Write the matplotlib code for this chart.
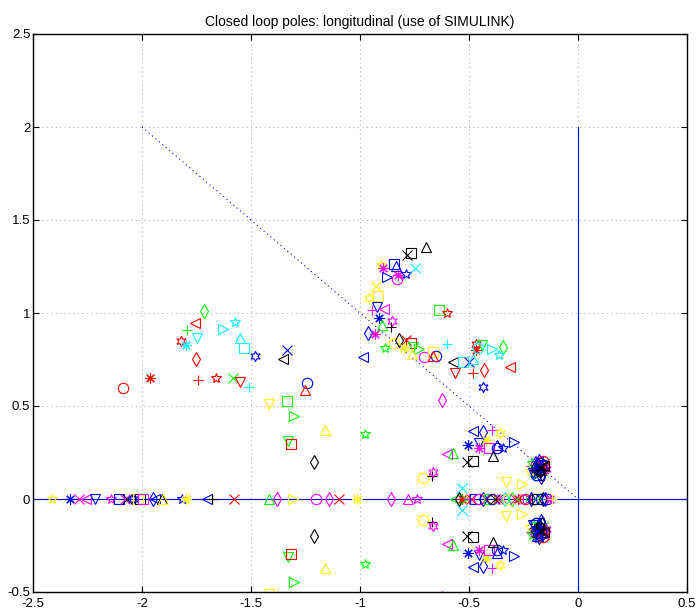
import matplotlib
matplotlib.use("Agg")
import matplotlib.pyplot as plt
from matplotlib import font_manager

# --- closed-loop complex poles (upper half-plane; conjugates drawn too) ---
cplx_re = [
    -2.087, -1.963, -1.821, -1.798, -1.795, -1.758, -1.749, -1.754, -1.716, -1.742,
    -1.661, -1.627, -1.573, -1.550, -1.532, -1.482, -1.581, -1.550, -1.509, -1.333,
    -1.355, -1.245, -1.251, -1.416, -1.333, -1.303, -1.159, -1.329, -1.318, -1.211,
    -0.977,
    -0.766, -0.783, -0.697, -0.905, -0.844, -0.835, -0.893, -0.875, -0.824, -0.832,
    -0.789, -0.748, -0.928, -0.916, -0.959, -0.921, -0.947, -0.890, -0.911, -0.855,
    -0.901, -0.858, -0.962, -0.931, -0.985, -0.885, -0.844, -0.820, -0.789, -0.766,
    -0.798, -0.755, -0.728, -0.763, -0.705, -0.667, -0.651, -0.667, -0.636, -0.602,
    -0.602,
    -0.572, -0.564, -0.529, -0.499, -0.480, -0.468, -0.468, -0.442, -0.457, -0.396,
    -0.343, -0.361, -0.312, -0.431, -0.480, -0.434, -0.625,
    -0.480, -0.434, -0.396, -0.358, -0.453, -0.420, -0.506, -0.453, -0.407, -0.373,
    -0.345, -0.373, -0.388, -0.292, -0.602, -0.572, -0.511, -0.483, -0.710, -0.671,
    -0.667, -0.330, -0.259, -0.534,
    -0.200, -0.190, -0.175, -0.165, -0.185, -0.170, -0.205, -0.195, -0.160, -0.150,
    -0.215, -0.180, -0.165, -0.210, -0.155, -0.190, -0.180, -0.145, -0.220, -0.200,
    -0.175, -0.160, -0.195, -0.170,
    -0.188, -0.178, -0.168, -0.198, -0.208, -0.172, -0.183, -0.158, -0.193, -0.176,
]
cplx_im = [
    0.597, 0.651, 0.849, 0.828, 0.909, 0.948, 0.864, 0.751, 1.009, 0.638,
    0.649, 0.914, 0.950, 0.864, 0.810, 0.771, 0.649, 0.631, 0.604, 0.801,
    0.751, 0.625, 0.586, 0.511, 0.528, 0.446, 0.371, 0.313, 0.294, 0.197,
    0.348,
    1.321, 1.312, 1.353, 1.258, 1.262, 1.253, 1.240, 1.195, 1.204, 1.181,
    1.210, 1.244, 1.145, 1.091, 1.082, 1.031, 1.016, 1.020, 0.971, 0.959,
    0.935, 0.926, 0.891, 0.887, 0.765, 0.810, 0.837, 0.855, 0.855, 0.840,
    0.810, 0.819, 0.806, 0.780, 0.765, 0.792, 0.769, 0.769, 1.016, 1.002,
    0.833,
    0.738, 0.679, 0.738, 0.738, 0.751, 0.835, 0.800, 0.828, 0.810, 0.805,
    0.819, 0.774, 0.711, 0.694, 0.676, 0.600, 0.532,
    0.367, 0.362, 0.371, 0.357, 0.303, 0.315, 0.290, 0.272, 0.272, 0.272,
    0.272, 0.290, 0.231, 0.308, 0.242, 0.249, 0.201, 0.206, 0.115, 0.124,
    0.147, 0.093, 0.081, 0.058,
    0.185, 0.200, 0.195, 0.180, 0.165, 0.160, 0.160, 0.140, 0.150, 0.170,
    0.175, 0.130, 0.135, 0.195, 0.190, 0.180, 0.215, 0.160, 0.150, 0.125,
    0.175, 0.205, 0.155, 0.120,
    0.170, 0.150, 0.185, 0.172, 0.140, 0.168, 0.192, 0.178, 0.128, 0.145,
]
cplx_color = list(
    "rrrcgrcrgr" "rccccbgrcb" "kbryggygrk" "g"
    "kkkybbmbmm" "bcyyybmmbm" "gkbmbgykrr" "yggymybrgr" "c"
    "krcbcrrgcc" "gcrrrbm"
    "bbmybybmmb" "bbkbmgkkyk" "myyc"
    "bbkkbkbbgr" "mbkgkkbmyg" "brkb"
    "bkbkbkbkbk"
)
cplx_marker = [
    "o", "*", "h", "*", "+", "<", "v", "d", "d", "+",
    "p", ">", "p", "^", "s", "h", "x", "v", "+", "x",
    "<", "o", "^", "v", "s", ">", "^", "v", "s", "d",
    "p",
    "s", "x", "^", "p", "s", "^", "*", ">", "*", "o",
    "p", "x", "x", "s", "h", "v", "+", "<", "*", "h",
    "^", "+", "d", "*", "<", "p", "o", "d", "x", "s",
    "*", "v", ">", "^", "o", "s", "o", "^", "s", "p",
    "+",
    "<", "v", "s", "x", "^", "h", "*", "v", "o", ">",
    "d", "p", "<", "d", "+", "h", "d",
    "<", "d", "+", "h", "v", "*", "*", "*", "s", "o",
    "p", "^", "^", ">", "<", "^", "x", "s", "o", "+",
    "h", "v", ">", "x",
    "d", "^", "o", "s", "o", "*", "<", "v", "x", "*",
    "+", "s", "d", "p", "x", "^", "h", "h", "p", "+",
    ">", "o", "<", "d",
    "*", "o", "s", "d", "v", "x", "p", "<", "o", "h",
]

# --- closed-loop real poles ---
real_re = [
    -2.411, -2.330, -2.288, -2.257, -2.216, -2.144, -2.106, -2.080, -2.067, -2.040,
    -2.020, -2.009, -1.997, -1.948, -1.940, -1.910, -1.905, -1.815, -1.800, -1.703,
    -1.681, -1.576, -1.416, -1.379, -1.309, -1.204, -1.141, -1.095, -1.015, -0.859,
    -0.778, -0.740,
    -0.565, -0.546, -0.530, -0.515, -0.500, -0.490, -0.472, -0.455, -0.436, -0.422,
    -0.410, -0.396, -0.380, -0.365, -0.350, -0.335, -0.320, -0.304, -0.290, -0.275,
    -0.260, -0.245, -0.230, -0.215, -0.200, -0.190, -0.180, -0.170, -0.160, -0.150,
    -0.140, -0.130, -0.120,
]
real_color = list(
    "ybmmbmbmkb" "ykmbbkybyb" "krgmymmrym" "mm"
    "gkrgmrbmbr" "gbkrmcygmr" "grmbkkgbkb" "bmy"
)
real_marker = [
    "p", "*", "x", "<", "v", "p", "s", "x", "x", "h",
    "s", "s", "s", "d", "<", "^", "^", "p", "*", "<",
    "+", "x", "^", "d", ">", "o", "d", "x", "*", "d",
    "^", "p",
    "<", "d", "*", "x", "+", "x", "s", "o", "d", "x",
    "s", "o", "x", "x", "x", "d", "o", "d", "x", "*",
    "<", "o", ">", "d", "o", "s", "+", "o", "d", "d",
    "o", "*", "+",
]

x_ticks = [-2.5, -2, -1.5, -1, -0.5, 0, 0.5]
y_ticks = [-0.5, 0, 0.5, 1, 1.5, 2, 2.5]
x_tick_labels = ["-2.5", "-2", "-1.5", "-1", "-0.5", "0", "0.5"]
y_tick_labels = ["-0.5", "0", "0.5", "1", "1.5", "2", "2.5"]

# damping guide line
guide_re = [-2, 0]
guide_im = [2, 0]

# MATLAB-style colours and marker shapes
rgb = {"y": (1, 1, 0), "m": (1, 0, 1), "c": (0, 1, 1), "r": (1, 0, 0),
       "g": (0, 1, 0), "b": (0, 0, 1), "k": (0, 0, 0)}
shape = {"o": "o", "x": "x", "+": "+", "s": "s", "d": "d", "v": "v", "^": "^",
         "<": "<", ">": ">", "p": "*", "h": (6, 1, 0), "*": (8, 2, 0)}

installed = {f.name for f in font_manager.fontManager.ttflist}
family = ["Liberation Sans Narrow", "Liberation Sans", "DejaVu Sans"]
plt.rcParams["font.family"] = [f for f in family if f in installed] or ["DejaVu Sans"]

fig = plt.figure(figsize=(6.98, 6.15), dpi=100)
ax = fig.add_axes([33 / 698, 1 - 592 / 615, (687 - 33) / 698, (592 - 34) / 615])

ax.set_xlim(-2.5, 0.5)
ax.set_ylim(-0.5, 2.5)
ax.set_xticks(x_ticks)
ax.set_yticks(y_ticks)
ax.set_xticklabels(x_tick_labels)
ax.set_yticklabels(y_tick_labels)
ax.grid(True, color="#b0b0b0", linestyle=(0, (1, 3)), linewidth=0.8)
ax.set_axisbelow(True)
ax.tick_params(direction="in", top=True, right=True, length=4, width=0.8,
               labelsize=9.5)
ax.tick_params(axis="x", pad=4)
ax.tick_params(axis="y", pad=2)
for sp in ax.spines.values():
    sp.set_linewidth(1.0)

ax.plot(guide_re, guide_im, color="b", linestyle=(0, (1, 3)), linewidth=0.8)
ax.plot([0, 0], [-0.5, 2], color="b", linewidth=0.8)
ax.plot([-2.5, 0.5], [0, 0], color="b", linewidth=0.8)

ms, mew = 7.5, 0.8
for re, c, m in zip(real_re, real_color, real_marker):
    ax.plot([re], [0], linestyle="none", marker=shape[m], color=rgb[c],
            mfc="none", ms=ms, mew=mew)
for re, im, c, m in zip(cplx_re, cplx_im, cplx_color, cplx_marker):
    ax.plot([re, re], [im, -im], linestyle="none", marker=shape[m], color=rgb[c],
            mfc="none", ms=ms, mew=mew)

ax.set_title("Closed loop poles: longitudinal (use of SIMULINK)", fontsize=10, pad=6)

fig.savefig("out.png", dpi=100)
